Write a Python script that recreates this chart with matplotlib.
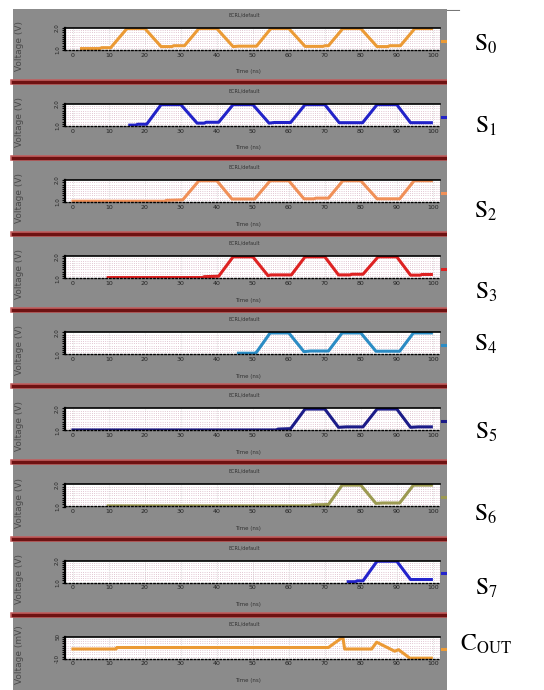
import numpy as np
import matplotlib
matplotlib.use("Agg")
import matplotlib.pyplot as plt
from matplotlib.patches import Rectangle
from matplotlib.lines import Line2D

W, H = 544.0, 690.0

# waveform samples (time, voltage)
s0_t = [2.4, 7.5, 8.0, 10.5, 15.0, 20.0, 24.5, 27.5, 28.0, 31.0, 35.0, 40.0, 44.5, 46.0, 51.0,
        55.0, 60.0, 64.5, 69.5, 70.0, 71.0, 75.0, 80.0, 84.5, 87.5, 88.0, 91.0, 95.0, 99.6]
s0_v = [1.06, 1.06, 1.10, 1.10, 1.97, 1.97, 1.15, 1.15, 1.19, 1.19, 1.97, 1.97, 1.15, 1.17, 1.17,
        1.97, 1.97, 1.16, 1.16, 1.19, 1.19, 1.97, 1.97, 1.15, 1.15, 1.19, 1.19, 1.97, 1.97]

s1_t = [15.8, 17.5, 18.0, 20.5, 24.5, 30.0, 34.5, 36.5, 37.0, 40.5, 44.5, 50.0, 54.5, 56.0,
        60.5, 64.5, 70.0, 74.0, 80.5, 84.5, 90.0, 93.8, 99.6]
s1_v = [1.04, 1.04, 1.08, 1.08, 1.97, 1.97, 1.13, 1.13, 1.17, 1.17, 1.97, 1.97, 1.13, 1.16,
        1.16, 1.97, 1.97, 1.15, 1.15, 1.97, 1.97, 1.15, 1.15]

s2_t = [0.0, 25.5, 26.0, 30.5, 35.0, 40.0, 44.2, 50.5, 54.8, 60.0, 64.2, 67.0, 67.5, 71.0,
        75.0, 80.0, 84.5, 90.8, 94.8, 99.6]
s2_v = [1.04, 1.04, 1.08, 1.10, 1.97, 1.97, 1.14, 1.14, 1.97, 1.97, 1.15, 1.15, 1.18, 1.18,
        1.97, 1.97, 1.15, 1.15, 1.97, 1.97]

s3_t = [9.8, 36.0, 36.5, 40.5, 44.5, 50.0, 54.2, 55.0, 60.7, 64.5, 70.0, 73.8, 77.0, 77.5,
        80.6, 84.8, 90.0, 93.8, 96.5, 97.0, 99.6]
s3_v = [1.03, 1.03, 1.07, 1.09, 1.97, 1.97, 1.12, 1.15, 1.15, 1.97, 1.97, 1.15, 1.15, 1.18,
        1.18, 1.97, 1.97, 1.14, 1.14, 1.17, 1.17]

s4_t = [46.0, 50.5, 51.0, 54.8, 60.0, 64.2, 66.0, 71.0, 74.8, 80.0, 84.2, 90.8, 94.6, 99.6]
s4_v = [1.05, 1.05, 1.09, 1.97, 1.97, 1.12, 1.15, 1.15, 1.97, 1.97, 1.14, 1.14, 1.97, 1.97]

s5_t = [0.0, 56.5, 57.0, 60.5, 64.5, 70.0, 73.8, 76.0, 80.6, 84.5, 90.0, 93.8, 96.0, 99.6]
s5_v = [1.02, 1.02, 1.06, 1.08, 1.97, 1.97, 1.14, 1.16, 1.16, 1.97, 1.97, 1.14, 1.16, 1.16]

s6_t = [9.8, 66.0, 66.5, 71.0, 74.8, 80.0, 84.2, 86.0, 90.8, 94.6, 99.6]
s6_v = [1.03, 1.03, 1.07, 1.09, 1.97, 1.97, 1.14, 1.16, 1.16, 1.97, 1.97]

s7_t = [76.5, 78.5, 79.0, 80.6, 84.5, 90.0, 93.8, 99.6]
s7_v = [1.04, 1.04, 1.08, 1.08, 1.97, 1.97, 1.14, 1.14]

cout_t = [0.0, 12.0, 12.2, 71.0, 75.0, 75.5, 83.0, 84.4, 89.4, 90.5, 93.6, 99.6]
cout_v = [16.5, 16.5, 20.5, 20.5, 49.0, 16.5, 16.5, 35.0, 10.5, 14.5, -8.5, -8.5]

names = [r"$\mathrm{S_0}$", r"$\mathrm{S_1}$", r"$\mathrm{S_2}$", r"$\mathrm{S_3}$",
         r"$\mathrm{S_4}$", r"$\mathrm{S_5}$", r"$\mathrm{S_6}$", r"$\mathrm{S_7}$",
         r"$\mathrm{C_{OUT}}$"]
net_names = ["/S0", "/S1", "/S2", "/S3", "/S4", "/S5", "/S6", "/S7", "/COUT"]
colors = ["#eb9a35", "#2222c8", "#f09058", "#dd2222", "#2b8cc4", "#1c1c88",
          "#9c9a52", "#2424cc", "#eb9a35"]
label_y = [44, 126, 211, 292, 344, 432, 514, 588, 644]

plt.rcParams["mathtext.fontset"] = "stix"


def fx(px):
    return px / W


def fy(py):
    return 1.0 - py / H


def style_axes(ax, ylim, yticks, ylabels):
    """ waveform-viewer look """
    ax.set_facecolor("white")
    ax.set_xlim(-2.2, 102)
    ax.set_ylim(*ylim)
    ax.set_xticks(np.arange(0, 101, 10))
    ax.set_xticklabels([str(v) for v in range(0, 101, 10)], fontsize=4.5, color="#222222")
    ax.set_yticks(yticks)
    ax.set_yticklabels(ylabels, fontsize=4, rotation=90, va="center", color="#222222")
    ax.set_yticks(np.linspace(ylim[0], ylim[1], 11), minor=True)
    ax.tick_params(axis="x", length=0, pad=2)
    ax.tick_params(axis="y", which="both", direction="out", length=2, width=0.8, pad=1.5)
    ax.grid(axis="x", color="#c8c8c8", linestyle=":", linewidth=0.5)
    ax.grid(axis="y", which="minor", color="#d8b4c4", linestyle=":", linewidth=0.6)
    ax.spines["top"].set_linewidth(1.2)
    ax.spines["left"].set_linewidth(1.6)
    ax.spines["bottom"].set_linestyle(":")
    ax.spines["bottom"].set_linewidth(1.0)
    ax.spines["right"].set_linestyle(":")
    ax.spines["right"].set_color("#888888")
    ax.spines["right"].set_linewidth(0.6)


fig = plt.figure(figsize=(W / 100, H / 100), dpi=100)
fig.patch.set_facecolor("white")

# gray window background
fig.add_artist(Rectangle((fx(13), 0), fx(447) - fx(13), fy(9), transform=fig.transFigure,
                         facecolor="#8b8b8b", edgecolor="none", zorder=-10))
fig.add_artist(Line2D([fx(447), fx(459)], [fy(10), fy(10)], transform=fig.transFigure,
                      color="#777777", lw=0.8, zorder=-9))

series = [(s0_t, s0_v), (s1_t, s1_v), (s2_t, s2_v), (s3_t, s3_v), (s4_t, s4_v),
          (s5_t, s5_v), (s6_t, s6_v), (s7_t, s7_v), (cout_t, cout_v)]

for i, (t, v) in enumerate(series):
    sep = 5.9 + 76.1 * i
    if i > 0:
        fig.add_artist(Line2D([fx(13), fx(447)], [fy(sep), fy(sep)], transform=fig.transFigure,
                              color="#c25c5c", lw=4.0, zorder=-8))
        fig.add_artist(Line2D([fx(13), fx(447)], [fy(sep), fy(sep)], transform=fig.transFigure,
                              color="#6e1212", lw=2.4, zorder=-7))
    ax = fig.add_axes([fx(65), fy(sep + 44), fx(375), 22 / H])
    if i < 8:
        style_axes(ax, (1.0, 2.0), [1.0, 2.0], ["1.0", "2.0"])
        ylab = "Voltage (V)"
    else:
        style_axes(ax, (-10, 50), [-10, 50], ["-10", "50"])
        ylab = "Voltage (mV)"
    ax.plot(t, v, color=colors[i], lw=2.2, solid_joinstyle="round", label=net_names[i])
    ax.legend(loc="center left", bbox_to_anchor=(1.0, 0.4), fontsize=3, frameon=False,
              handlelength=1.2, handletextpad=0.3, borderaxespad=0.1)
    fig.text(fx(244), fy(sep + 9), "ECRL/default", fontsize=3.5, ha="center", va="center",
             color="#333333")
    fig.text(fx(248), fy(sep + 66), "Time (ns)", fontsize=4, ha="center", va="center",
             color="#333333")
    fig.text(fx(20), fy(sep + 40), ylab, fontsize=6.5, rotation=90, ha="center", va="center",
             color="#4a4a4a")

# white area on the right hides what spills out of the window
fig.add_artist(Rectangle((fx(447), 0), 1 - fx(447), fy(11), transform=fig.transFigure,
                         facecolor="white", edgecolor="none", zorder=5))

for i, name in enumerate(names):
    fig.text(fx(486), fy(label_y[i]), name, fontsize=17, ha="center", va="center",
             color="black", zorder=6)

fig.savefig("out.png", dpi=100)
